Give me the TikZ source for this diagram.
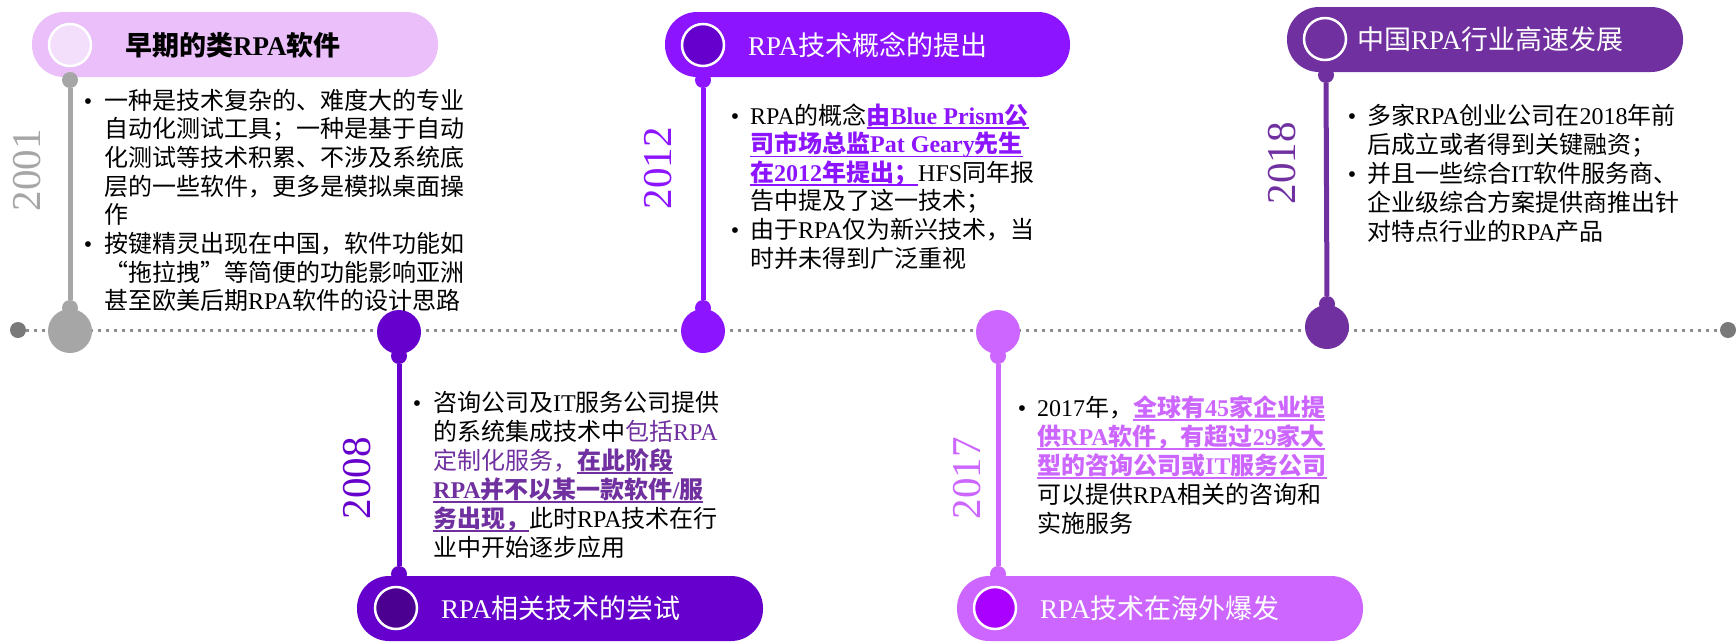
\documentclass[tikz,border=0pt]{standalone}
\usepackage{fontspec}
\setmainfont{Liberation Serif}
\newfontfamily\cjkfont{Noto Sans CJK SC}
% automatic switch to the CJK font for CJK characters
\XeTeXinterchartokenstate=1
\newXeTeXintercharclass\CJKcls
\newcount\cjkc
\def\setcjkrange#1#2{\cjkc=#1\relax\loop\XeTeXcharclass\cjkc=\CJKcls\relax\advance\cjkc by 1\relax\ifnum\cjkc<#2\relax\repeat}
\setcjkrange{"4E00}{"A000}
\setcjkrange{"3000}{"3040}
\setcjkrange{"FF00}{"FFF0}
\XeTeXcharclass"201C=\CJKcls
\XeTeXcharclass"201D=\CJKcls
\XeTeXinterchartoks 0 \CJKcls = {\begingroup\cjkfont}
\XeTeXinterchartoks 4095 \CJKcls = {\begingroup\cjkfont}
\XeTeXinterchartoks \CJKcls 0 = {\endgroup}
\XeTeXinterchartoks \CJKcls 4095 = {\endgroup}

\definecolor{cGray}{HTML}{A6A6A6}
\definecolor{cGrayD}{HTML}{8C8C8C}
\definecolor{cLav}{HTML}{EABFFA}
\definecolor{cLavC}{HTML}{F3DEFC}
\definecolor{cViolet}{HTML}{8C14FF}
\definecolor{cVioletC}{HTML}{6600CC}
\definecolor{cPurple}{HTML}{7030A0}
\definecolor{cIndigo}{HTML}{6600CC}
\definecolor{cIndigoC}{HTML}{4B0091}
\definecolor{cPink}{HTML}{CC66FF}
\definecolor{cPinkC}{HTML}{AA00FF}

\newcommand\myul[1]{\setbox0=\hbox{#1}\rlap{\rule[-4.5pt]{\wd0}{1.6pt}}\box0}
\newcommand\myhl[2]{{\color{#1}\bfseries\myul{#2}}}
\newcommand\tline[4]{\node[tlbody] (#1) at (#2,#3) {#4};}
\newcommand\tbul[3]{\node[tlbullet] (#1) at (#2,#3) {\textbullet};}

\begin{document}
\begin{tikzpicture}[x=1pt,y=-1pt,
  tlpill/.style={rectangle, rounded corners=32pt, minimum height=65pt, inner sep=0pt},
  tlring/.style={circle, draw=white, line width=2.5pt, minimum size=42pt, inner sep=0pt},
  tlpin/.style={circle, minimum size=44pt, inner sep=0pt},
  tlnub/.style={circle, minimum size=16pt, inner sep=0pt},
  tlstem/.style={line width=5pt},
  tlyear/.style={rotate=90, inner sep=0pt, font=\fontsize{41}{41}\selectfont},
  tltitle/.style={anchor=west, inner sep=0pt, font=\fontsize{27}{27}\selectfont},
  tlbody/.style={anchor=base west, inner sep=0pt, font=\fontsize{24}{29}\selectfont, text=black},
  tlbullet/.style={anchor=base, inner sep=0pt, font=\fontsize{24}{29}\selectfont, text=black}]
\useasboundingbox (0,0) rectangle (1736,641);
\fill[white] (0,0) rectangle (1736,641);

% timeline
\node[tlnub, fill=gray!95!black, minimum size=16pt] (tl) at (18,330) {};
\node[tlnub, fill=gray!95!black, minimum size=16pt] (tr) at (1728,330) {};
\draw[cGrayD, line width=3pt, dash pattern=on 3pt off 5pt] (tl) -- (tr);

% ---------- pills ----------
\node[tlpill, fill=cLav, minimum width=406pt] (p1) at (235,44.5) {};
\node[tlpill, fill=cViolet, minimum width=405pt] (p2) at (867.5,44.5) {};
\node[tlpill, fill=cPurple, minimum width=396pt] (p3) at (1485,39.5) {};
\node[tlpill, fill=cIndigo, minimum width=406pt] (p4) at (560,608.5) {};
\node[tlpill, fill=cPink, minimum width=406pt] (p5) at (1160,608.5) {};

\node[tlring, fill=cLavC] (r1) at (70,45) {};
\node[tlring, fill=cVioletC] (r2) at (703,45) {};
\node[tlring, fill=cPurple] (r3) at (1325,39) {};
\node[tlring, fill=cIndigoC] (r4) at (396,608) {};
\node[tlring, fill=cPinkC] (r5) at (995,608) {};

\node[tltitle, text=black, font=\fontsize{27}{27}\selectfont\bfseries] (t1) at (125,45) {早期的类RPA软件};
\node[tltitle, text=white] (t2) at (748,45) {RPA技术概念的提出};
\node[tltitle, text=white] (t3) at (1357,39) {中国RPA行业高速发展};
\node[tltitle, text=white] (t4) at (441,608) {RPA相关技术的尝试};
\node[tltitle, text=white] (t5) at (1040,608) {RPA技术在海外爆发};

% ---------- stems and pins ----------
\node[tlnub, fill=cGray] (a1) at (70,80) {};
\node[tlpin, fill=cGray] (m1) at (70,331) {};
\node[tlnub, fill=cGray] (b1) at (70,308) {};
\draw[tlstem, cGray] (a1) -- (b1);

\node[tlnub, fill=cViolet] (a2) at (703,80) {};
\node[tlpin, fill=cViolet] (m2) at (703,331) {};
\node[tlnub, fill=cViolet] (b2) at (703,308) {};
\draw[tlstem, cViolet] (a2) -- (b2);

\node[tlnub, fill=cPurple] (a3) at (1326,75) {};
\node[tlpin, fill=cPurple] (m3) at (1327,327) {};
\node[tlnub, fill=cPurple] (b3) at (1327,304) {};
\draw[tlstem, cPurple] (a3) -- (b3);

\node[tlnub, fill=cIndigo] (a4) at (399,574) {};
\node[tlpin, fill=cIndigo] (m4) at (399,332) {};
\node[tlnub, fill=cIndigo] (b4) at (399,356) {};
\draw[tlstem, cIndigo] (b4) -- (a4);

\node[tlnub, fill=cPink] (a5) at (998,574) {};
\node[tlpin, fill=cPink] (m5) at (998,332) {};
\node[tlnub, fill=cPink] (b5) at (998,356) {};
\draw[tlstem, cPink] (b5) -- (a5);

% ---------- years ----------
\node[tlyear, text=cGray] (y1) at (27,170) {2001};
\node[tlyear, text=cViolet] (y2) at (658,168) {2012};
\node[tlyear, text=cPurple] (y3) at (1282,163) {2018};
\node[tlyear, text=cIndigo] (y4) at (357,478) {2008};
\node[tlyear, text=cPink] (y5) at (967,478) {2017};

% ---------- block 2001 ----------
\tbul{u11}{88}{109}
\tline{l11}{104}{109}{一种是技术复杂的、难度大的专业}
\tline{l12}{104}{137.7}{自动化测试工具；一种是基于自动}
\tline{l13}{104}{166.4}{化测试等技术积累、不涉及系统底}
\tline{l14}{104}{195.1}{层的一些软件，更多是模拟桌面操}
\tline{l15}{104}{223.8}{作}
\tbul{u12}{88}{252.5}
\tline{l16}{104}{252.5}{按键精灵出现在中国，软件功能如}
\tline{l17}{104}{281.2}{“拖拉拽”等简便的功能影响亚洲}
\tline{l18}{104}{309.9}{甚至欧美后期RPA软件的设计思路}

% ---------- block 2012 ----------
\tbul{u21}{735}{124}
\tline{l21}{750}{124}{RPA的概念\myhl{cViolet}{由Blue Prism公}}
\tline{l22}{750}{152.6}{\myhl{cViolet}{司市场总监Pat Geary先生}}
\tline{l23}{750}{181.2}{\myhl{cViolet}{在2012年提出；}HFS同年报}
\tline{l24}{750}{209.8}{告中提及了这一技术；}
\tbul{u22}{735}{238.4}
\tline{l25}{750}{238.4}{由于RPA仅为新兴技术，当}
\tline{l26}{750}{267}{时并未得到广泛重视}

% ---------- block 2018 ----------
\tbul{u31}{1352}{124}
\tline{l31}{1367}{124}{多家RPA创业公司在2018年前}
\tline{l32}{1367}{153.2}{后成立或者得到关键融资；}
\tbul{u32}{1352}{182.4}
\tline{l33}{1367}{182.4}{并且一些综合IT软件服务商、}
\tline{l34}{1367}{211.6}{企业级综合方案提供商推出针}
\tline{l35}{1367}{240.8}{对特点行业的RPA产品}

% ---------- block 2008 ----------
\tbul{u41}{417}{411}
\tline{l41}{433}{411}{咨询公司及IT服务公司提供}
\tline{l42}{433}{440}{的系统集成技术中{\color{cPurple}包括RPA}}
\tline{l43}{433}{469}{{\color{cPurple}定制化服务，}\myhl{cPurple}{在此阶段}}
\tline{l44}{433}{498}{\myhl{cPurple}{RPA并不以某一款软件/服}}
\tline{l45}{433}{527}{\myhl{cPurple}{务出现，}此时RPA技术在行}
\tline{l46}{433}{556}{业中开始逐步应用}

% ---------- block 2017 ----------
\tbul{u51}{1022}{416}
\tline{l51}{1037}{416}{2017年，\myhl{cPink}{全球有45家企业提}}
\tline{l52}{1037}{445}{\myhl{cPink}{供RPA软件，有超过29家大}}
\tline{l53}{1037}{474}{\myhl{cPink}{型的咨询公司或IT服务公司}}
\tline{l54}{1037}{503}{可以提供RPA相关的咨询和}
\tline{l55}{1037}{532}{实施服务}
\end{tikzpicture}
\end{document}
